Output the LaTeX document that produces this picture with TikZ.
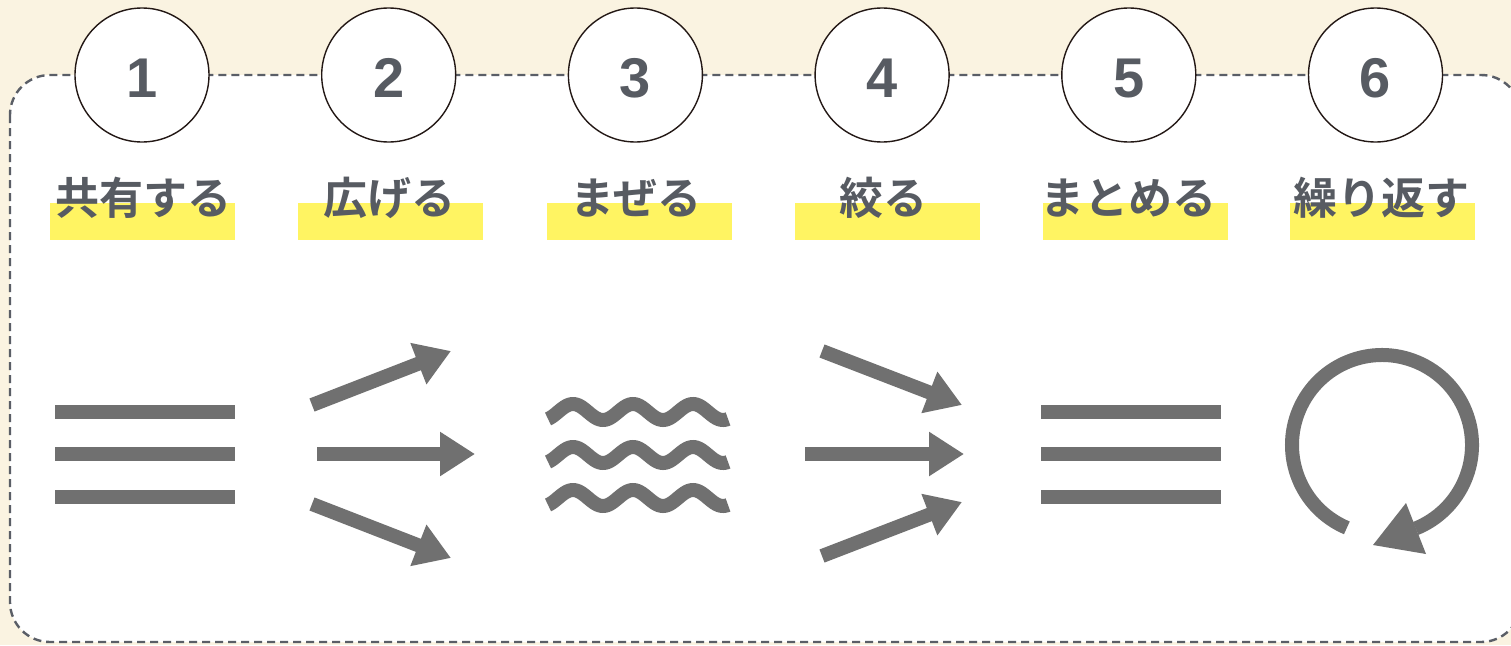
\documentclass[tikz,border=0pt]{standalone}
\usepackage{fontspec}
\newfontfamily\jpfont{Noto Sans CJK JP}[BoldFont={* Bold}]
\newfontfamily\numfont{Liberation Sans}
\usetikzlibrary{arrows.meta}
\definecolor{bgc}{HTML}{FAF3E1}
\definecolor{iconc}{HTML}{707070}
\definecolor{txtc}{HTML}{575B62}
\definecolor{hlc}{HTML}{FFF462}
\definecolor{ringc}{HTML}{231815}
\definecolor{dashc}{HTML}{5A5E66}
\tikzset{
  iconline/.style={draw=iconc, line width=14pt, line cap=butt},
  iconarr/.style={iconline, -{Triangle[length=35pt,width=42pt]}},
  numcircle/.style={circle, draw=ringc, fill=white, line width=1.4pt, minimum size=134pt, inner sep=0pt},
  numtext/.style={text=txtc, font=\numfont\bfseries\fontsize{56}{60}\selectfont, anchor=base, inner sep=0pt},
  labeltext/.style={text=txtc, font=\jpfont\bfseries\fontsize{44}{48}\selectfont, anchor=base, inner sep=0pt},
  hlbox/.style={fill=hlc, draw=none}
}
\begin{document}
\begin{tikzpicture}[x=1pt,y=-1pt]
\fill[bgc] (0,0) rectangle (1511,645);
\useasboundingbox (0,0) rectangle (1511,645);
% panel
\draw[dashc, fill=white, line width=2.4pt, dash pattern=on 8pt off 5pt, rounded corners=40pt] (10,75) rectangle (1521,642);
% columns
\foreach \i/\cx/\hx/\lx/\lab in {1/142/142.5/143.5/共有する, 2/388.7/390.5/389/広げる, 3/635.4/639.5/636/まぜる, 4/882.1/887.5/883.5/絞る, 5/1128.8/1135.5/1128.5/まとめる, 6/1375.5/1382.5/1381.5/繰り返す}{
  \node[numcircle] (c\i) at (\cx,75) {};
  \node[numtext] (n\i) at (\cx,97) {\i};
  \fill[hlbox] (\hx-92.5,203) rectangle (\hx+92.5,240);
  \node[labeltext] (l\i) at (\lx,214) {\lab};
}
% icon 1 and 5: lines
\foreach \y in {412,454,497}{
  \draw[iconline] (55,\y) -- (235,\y);
  \draw[iconline] (1041,\y) -- (1221,\y);
}
% icon 2: diverging arrows
\draw[iconarr] (312,405) -- (451,351);
\draw[iconarr] (317,454) -- (475,454);
\draw[iconarr] (312,504) -- (451,558);
% icon 3: waves
\foreach \m in {412,455,498}{
  \draw[iconline] plot[domain=548:728, samples=120, smooth] (\x, {\m - 8*cos(6*(\x-573))});
}
% icon 4: converging arrows
\draw[iconarr] (822,351) -- (962,405);
\draw[iconarr] (805,454) -- (964,454);
\draw[iconarr] (822,556) -- (962,502);
% icon 6: cycle
\draw[iconline] (1382,445) ++(113:90) arc[start angle=113, end angle=428, radius=90];
\fill[iconc] (1426,554) -- (1406,503) -- (1373,545) -- cycle;
\end{tikzpicture}
\end{document}
